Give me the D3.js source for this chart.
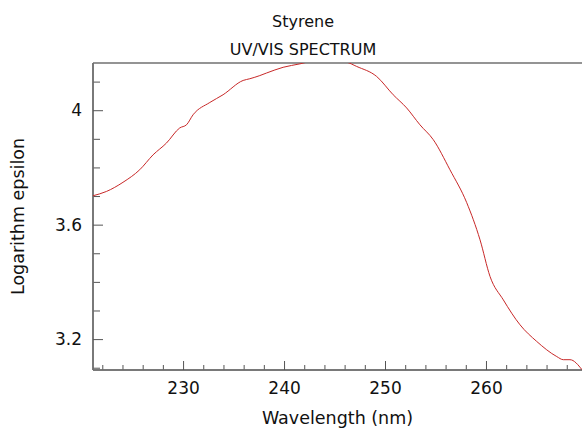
<!DOCTYPE html>
<html>
<head>
<meta charset="utf-8">
<script src="https://cdn.jsdelivr.net/npm/d3@7"></script>
<style>
  html, body { margin: 0; padding: 0; background: #fff; }
  svg { display: block; font-family: "DejaVu Sans", Verdana, sans-serif; }
</style>
</head>
<body>
<svg id="chart" width="582" height="428"></svg>
<script>
// ---- data ----
const wavelength = [221.08, 222.41, 224.05, 225.71, 227.03, 228.35, 229.67, 230.34, 230.99, 232.65,
  233.96, 235.95, 236.61, 237.60, 238.27, 239.91, 241.57, 242.56, 244.3, 246.19,
  247.19, 249.17, 250.81, 252.14, 253.46, 254.78, 256.43, 258.09, 259.41, 260.40,
  261.72, 263.37, 265.02, 267.01, 267.66, 268.32, 269.51];
const logEpsilon = [3.701, 3.716, 3.748, 3.792, 3.844, 3.885, 3.938, 3.949, 3.984, 4.027,
  4.054, 4.104, 4.110, 4.121, 4.130, 4.150, 4.162, 4.170, 4.176, 4.168,
  4.153, 4.118, 4.054, 4.008, 3.949, 3.897, 3.792, 3.677, 3.547, 3.419,
  3.337, 3.250, 3.192, 3.139, 3.128, 3.128, 3.093];
const xMajorTicks = [230, 240, 250, 260];
const xMinorTicks = [222, 224, 226, 228, 232, 234, 236, 238, 242, 244, 246, 248, 252, 254, 256, 258, 262, 264, 266, 268];
const yMajorTicks = [3.2, 3.6, 4.0];
const yMinorTicks = [3.1, 3.3, 3.4, 3.5, 3.7, 3.8, 3.9, 4.1];
const titleLines = ["Styrene", "UV/VIS SPECTRUM"];
const xTitle = "Wavelength (nm)";
const yTitle = "Logarithm epsilon";

// ---- layout ----
const svg = d3.select("#chart");
const L = 93, T = 63, R = 582, B = 370;
const x = d3.scaleLinear().domain([221.08, 269.51]).range([L, R]);
const y = d3.scaleLinear().domain([3.092, 4.165]).range([B, T]);
const axisColor = "#707070";

svg.append("defs").append("clipPath").attr("id", "clip")
  .append("rect").attr("x", L).attr("y", T).attr("width", R - L).attr("height", B - T);

// top border
svg.append("line").attr("x1", L).attr("x2", R).attr("y1", T).attr("y2", T)
  .attr("stroke", axisColor).attr("stroke-width", 1.5);

// x axis
const gxMinor = svg.append("g").attr("transform", `translate(0,${B})`)
  .call(d3.axisBottom(x).tickValues(xMinorTicks).tickSize(-5).tickFormat(""));
const gx = svg.append("g").attr("transform", `translate(0,${B})`)
  .call(d3.axisBottom(x).tickValues(xMajorTicks).tickSize(-9).tickPadding(12).tickFormat(d3.format("d")));
// y axis
const gyMinor = svg.append("g").attr("transform", `translate(${L},0)`)
  .call(d3.axisLeft(y).tickValues(yMinorTicks).tickSize(-7).tickFormat(""));
const gy = svg.append("g").attr("transform", `translate(${L},0)`)
  .call(d3.axisLeft(y).tickValues(yMajorTicks).tickSize(-10).tickPadding(11).tickFormat(d => d3.format("")(+d.toFixed(1))));

[gx, gxMinor, gy, gyMinor].forEach(g => {
  g.select(".domain").attr("stroke", axisColor).attr("stroke-width", 1.5);
  g.selectAll(".tick line").attr("stroke", "#555").attr("stroke-width", 1);
  g.selectAll(".tick text").attr("fill", "#111").style("font-size", "17px")
    .style("font-family", "'DejaVu Sans', Verdana, sans-serif");
});
gxMinor.select(".domain").attr("d", `M${L},0H${R}`);
gx.select(".domain").attr("d", `M${L},0H${R}`);
gy.select(".domain").attr("d", `M0,${T}V${B}`);
gyMinor.select(".domain").attr("d", `M0,${T}V${B}`);

// line
const pts = wavelength.map((w, i) => [w, logEpsilon[i]]);
svg.append("path").datum(pts)
  .attr("clip-path", "url(#clip)")
  .attr("fill", "none").attr("stroke", "#c82828").attr("stroke-width", 1)
  .attr("d", d3.line().x(d => x(d[0])).y(d => y(d[1])).curve(d3.curveMonotoneX));

// titles
svg.append("text").attr("x", 303).attr("y", 27).attr("text-anchor", "middle")
  .style("font-size", "16px").attr("fill", "#111").text(titleLines[0]);
svg.append("text").attr("x", 303).attr("y", 55).attr("text-anchor", "middle")
  .style("font-size", "16px").attr("fill", "#111").text(titleLines[1]);
svg.append("text").attr("x", (L + R) / 2).attr("y", 424).attr("text-anchor", "middle")
  .style("font-size", "17.5px").attr("fill", "#111").text(xTitle);
svg.append("text").attr("transform", `translate(24,${(T + B) / 2}) rotate(-90)`)
  .attr("text-anchor", "middle").style("font-size", "17.5px").attr("fill", "#111").text(yTitle);
</script>
</body>
</html>
